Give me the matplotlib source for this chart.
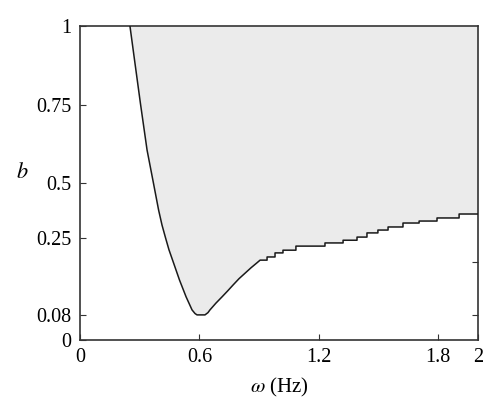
import numpy as np
import matplotlib
matplotlib.use("Agg")
import matplotlib.pyplot as plt

# ---- data ----
# lower boundary of the shaded region b(omega); region extends up to b = 1
omega_smooth = [0.251, 0.274, 0.304, 0.337, 0.369, 0.395, 0.412, 0.430, 0.447,
                0.470, 0.500, 0.533, 0.563, 0.578, 0.588, 0.628,
                0.643, 0.653, 0.683, 0.714, 0.742, 0.769, 0.799, 0.829, 0.859,
                0.889, 0.905]
b_smooth = [1.0, 0.892, 0.752, 0.605, 0.500, 0.377, 0.309, 0.250, 0.224,
            0.195, 0.157, 0.120, 0.091, 0.083, 0.080, 0.080,
            0.085, 0.091, 0.106, 0.120, 0.133, 0.146, 0.160, 0.172, 0.184,
            0.195, 0.201]
omega_steps = [0.905, 0.940, 0.980, 1.020, 1.085, 1.231, 1.322, 1.392, 1.442,
               1.497, 1.548, 1.623, 1.704, 1.794, 1.905, 2.0]
b_steps = [0.201, 0.208, 0.217, 0.223, 0.232, 0.239, 0.245, 0.254, 0.273,
           0.286, 0.300, 0.318, 0.327, 0.341, 0.359, 0.359]

x_ticks = [0, 0.6, 1.2, 1.8, 2]
x_ticklabels = ["0", "0.6", "1.2", "1.8", "2"]
y_ticks = [0, 0.08, 0.25, 0.5, 0.75, 1]
y_ticklabels = ["0", "0.08", "0.25", "0.5", "0.75", "1"]
right_ticks = [0.08, 0.197]

# non-uniform axis used by the original figure (tick value -> axis position)
knot_vals = np.array([0, 0.08, 0.25, 0.5, 0.75, 1.0])
knot_pos = np.array([0, 0.08, 0.325, 0.5, 0.75, 1.0])

def fwd(v):
    return np.interp(v, knot_vals, knot_pos)

def inv(p):
    return np.interp(p, knot_pos, knot_vals)

plt.rcParams['font.family'] = ['Liberation Serif', 'DejaVu Serif']
plt.rcParams['mathtext.fontset'] = 'stix'

fig = plt.figure(figsize=(5.0, 4.15), dpi=100)
ax = fig.add_axes([0.16, 0.1807, 0.796, 0.7566])
ax.set_yscale('function', functions=(fwd, inv))

# build the stepped part as steps-post
sx, sy = [], []
for i in range(len(omega_steps) - 1):
    sx += [omega_steps[i], omega_steps[i + 1]]
    sy += [b_steps[i], b_steps[i]]
bx = np.array(omega_smooth + sx[1:])
by = np.array(b_smooth + sy[1:])

ax.fill_between(bx, by, 1.0, color='#ebebeb', lw=0, zorder=1)
ax.plot(bx, by, color='#1a1a1a', lw=1.1, zorder=3)

ax.set_xlim(0, 2)
ax.set_ylim(0, 1)
ax.set_xticks(x_ticks)
ax.set_xticklabels(x_ticklabels)
ax.set_yticks(y_ticks)
ax.set_yticklabels(y_ticklabels)
ax.minorticks_off()
ax.tick_params(direction='in', length=4, width=0.8, color='#333333',
               labelsize=14.5, pad=6)
for s in ax.spines.values():
    s.set_linewidth(1.2)
    s.set_color('#333333')

ax2 = ax.twinx()
ax2.set_yscale('function', functions=(fwd, inv))
ax2.set_ylim(0, 1)
ax2.set_yticks(right_ticks)
ax2.set_yticklabels([])
ax2.minorticks_off()
ax2.tick_params(direction='in', length=4, width=0.8, color='#333333')
for s in ax2.spines.values():
    s.set_visible(False)

ax.set_xlabel(r'$\mathit{\omega}$ (Hz)', fontsize=15, labelpad=6)
ax.set_ylabel(r'$b$', fontsize=16, rotation=0, labelpad=14)
ax.yaxis.set_label_coords(-0.145, 0.5)

fig.savefig('out.png', dpi=100)
